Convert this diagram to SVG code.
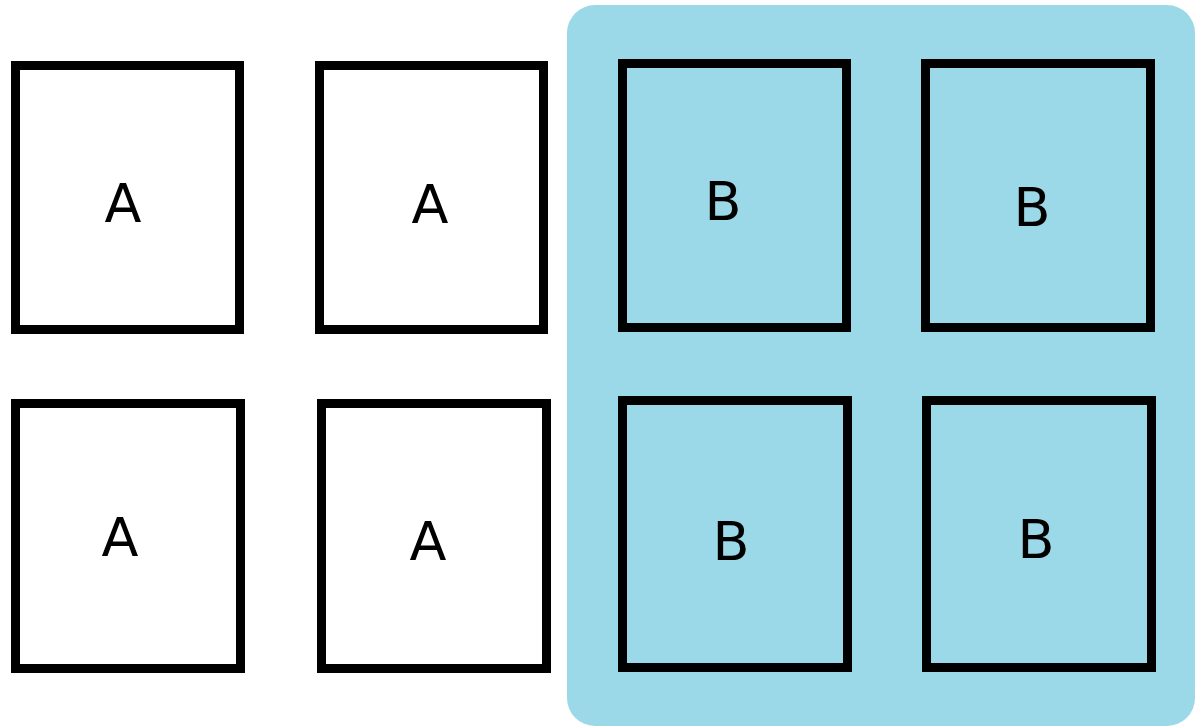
<svg xmlns="http://www.w3.org/2000/svg" width="1196" height="727" viewBox="0 0 1196 727">
<style>
.box{fill:none;stroke:#000;stroke-width:9}
.lbl{font-family:"DejaVu Sans","Liberation Sans",sans-serif;font-size:54px;fill:#000;text-anchor:middle}
</style>
<rect x="0" y="0" width="1196" height="727" fill="#fff"/>
<g id="groupB-bg">
<rect x="567" y="5" width="628" height="721" rx="28" ry="28" fill="#9bd8e8"/>
</g>
<g id="A1"><rect class="box" x="15.5" y="65.5" width="224" height="264"/><text class="lbl" x="123" y="222">A</text></g>
<g id="A2"><rect class="box" x="319.5" y="65.5" width="224" height="264"/><text class="lbl" x="430" y="223">A</text></g>
<g id="B1"><rect class="box" x="622.5" y="63.5" width="224" height="264"/><text class="lbl" x="723" y="220">B</text></g>
<g id="B2"><rect class="box" x="925.5" y="63.5" width="225" height="264"/><text class="lbl" x="1032" y="226">B</text></g>
<g id="A3"><rect class="box" x="15.5" y="403.5" width="225" height="265"/><text class="lbl" x="120" y="556">A</text></g>
<g id="A4"><rect class="box" x="321.5" y="403.5" width="225" height="265"/><text class="lbl" x="428" y="560">A</text></g>
<g id="B3"><rect class="box" x="622.5" y="400.5" width="225" height="267"/><text class="lbl" x="731" y="560">B</text></g>
<g id="B4"><rect class="box" x="926.5" y="400.5" width="225" height="267"/><text class="lbl" x="1036" y="558">B</text></g>
<g id="connectors"></g>
</svg>
